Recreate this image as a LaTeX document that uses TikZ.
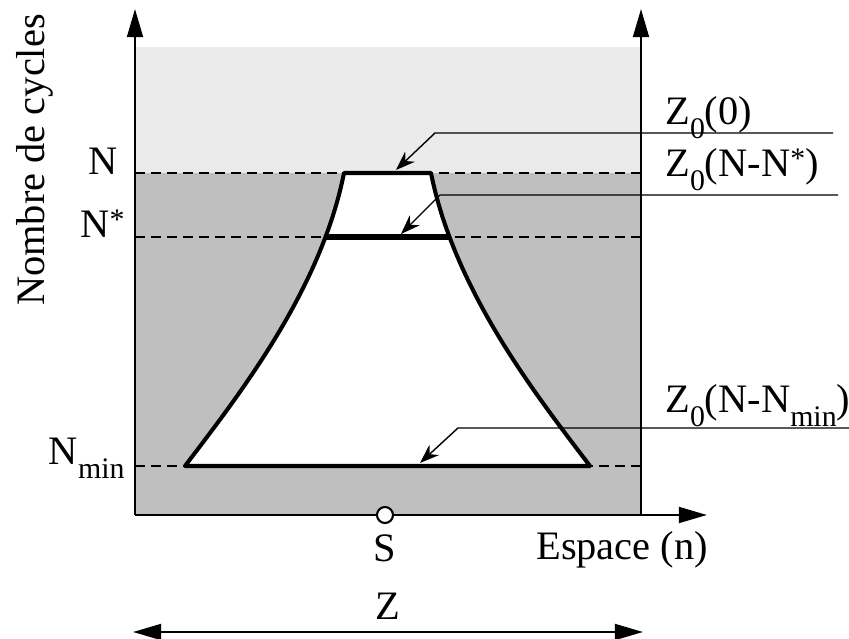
\documentclass[tikz,border=0pt]{standalone}
\usepackage{fontspec}
\setmainfont{Liberation Serif}
\usetikzlibrary{arrows.meta}
\definecolor{zoneLight}{gray}{0.92}
\definecolor{zoneDark}{gray}{0.75}
\newcommand{\lowidx}[1]{\raisebox{-0.33em}{\fontsize{17}{17}\selectfont #1}}
\newcommand{\upidx}[1]{\raisebox{0.2em}{\fontsize{17}{17}\selectfont #1}}
\begin{document}
\begin{tikzpicture}
% cycle/space diagram, one unit = one pixel of the sketch
\def\unitsz{0.02cm}
\providecommand{\axisLineWidth}{1.4pt}
\providecommand{\zoneLineWidth}{2.3pt}
\providecommand{\levelLineWidth}{3.4pt}
\providecommand{\calloutLineWidth}{0.8pt}
\tikzset{
  axisline/.style={line width=\axisLineWidth, -{Triangle[length=16pt,width=9pt]}},
  levelline/.style={line width=1.2pt, dash pattern=on 5.7pt off 3.4pt},
  callout/.style={line width=\calloutLineWidth, -{Stealth[length=11pt,width=8pt]}},
  lbl/.style={inner sep=0pt, font=\fontsize{23}{27}\selectfont},
}
\begin{scope}[x=\unitsz, y=\unitsz, line join=round]
  \useasboundingbox (-135,-124) rectangle (714,515);
  % Background zones
  \fill[zoneLight] (0,342) rectangle (506,468);
  \fill[zoneDark] (0,0) rectangle (506,342);
  % Levels
  \draw[levelline] (0,342) -- (506,342);
  \draw[levelline] (0,278) -- (506,278);
  \draw[levelline] (0,49) -- (506,49);
  % Zone of the source
  \path[fill=white, draw=black, line width=\zoneLineWidth]
    (209,342) -- (296,342)
    .. controls (319.5,224.3) and (400.55,120.6) .. (455,49)
    -- (50,49)
    .. controls (104.45,120.6) and (185.5,224.3) .. (209,342)
    -- cycle;
  \draw[line width=\levelLineWidth] (191,278) -- (314,278);
  % Axes
  \coordinate (O) at (0,0);
  \coordinate (yTip) at (0,506);
  \coordinate (xTip) at (572,0);
  \coordinate (rBase) at (506,0);
  \coordinate (rTip) at (506,506);
  \draw[axisline] (O) -- (yTip);
  \draw[axisline] (O) -- (xTip);
  \draw[axisline] (rBase) -- (rTip);
  \node[circle, draw=black, fill=white, line width=1.2pt, minimum size=0.32cm, inner sep=0pt] (src) at (250,0) {};
  % Left labels
  \node[lbl, anchor=base east] (nN) at (-17,340) {N};
  \node[lbl, anchor=base east] (nNstar) at (-10,277) {N\upidx{*}};
  \node[lbl, anchor=base east] (nNmin) at (-10,50) {N\lowidx{min}};
  \node[lbl, rotate=90, anchor=base] (yLabel) at (-90,355) {Nombre de cycles};
  % Right labels
  \node[lbl, anchor=base west] (zZero) at (530,390) {Z\lowidx{0}(0)};
  \node[lbl, anchor=base west] (zStar) at (530,338) {Z\lowidx{0}(N-N\upidx{*})};
  \node[lbl, anchor=base west] (zMin) at (530,102) {Z\lowidx{0}(N-N\lowidx{min})};
  % Callouts
  \coordinate (c0r) at (698,382);
  \coordinate (c0e) at (300,382);
  \coordinate (c0t) at (261,345);
  \coordinate (c1r) at (703,320);
  \coordinate (c1e) at (305,320);
  \coordinate (c1t) at (266,281);
  \coordinate (c2r) at (714,87);
  \coordinate (c2e) at (323,87);
  \coordinate (c2t) at (285,52);
  \draw[callout] (c0r) -- (c0e) -- (c0t);
  \draw[callout] (c1r) -- (c1e) -- (c1t);
  \draw[callout] (c2r) -- (c2e) -- (c2t);
  % Bottom labels
  \node[lbl, anchor=base] (sLabel) at (src.center |- 0,-47) {S};
  \node[lbl, anchor=base west] (espace) at (401,-45) {Espace (n)};
  \node[lbl, anchor=base] (zLabel) at (253,-105) {Z};
  \coordinate (zl) at (-2,-117);
  \coordinate (zr) at (508,-117);
  \draw[line width=1.4pt, {Triangle[length=16pt,width=9pt]}-{Triangle[length=16pt,width=9pt]}] (zl) -- (zr);
\end{scope}
\end{tikzpicture}
\end{document}
